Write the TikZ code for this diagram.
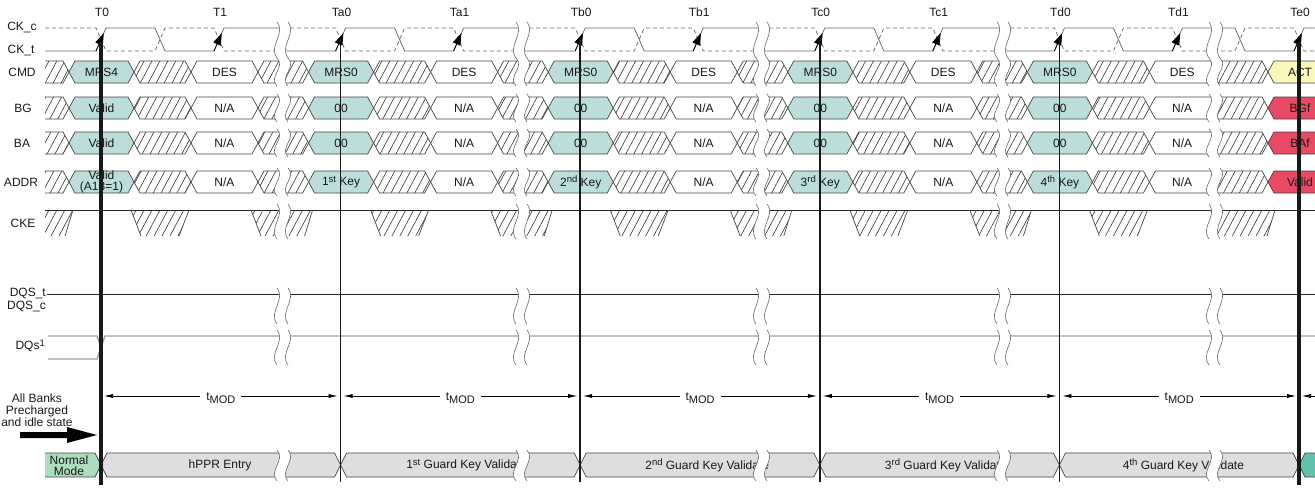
\documentclass[tikz,border=0pt]{standalone}
\usepackage{fontspec}
\setmainfont{Liberation Sans}
\usetikzlibrary{arrows.meta,patterns.meta}
\definecolor{tealbox}{RGB}{188,222,218}
\definecolor{greenbox}{RGB}{172,222,188}
\definecolor{yelbox}{RGB}{250,247,186}
\definecolor{redbox}{RGB}{232,74,100}
\definecolor{graybox}{RGB}{221,222,224}
\definecolor{tealdark}{RGB}{98,192,172}
\definecolor{lineg}{RGB}{70,70,70}
\definecolor{clkg}{RGB}{105,105,105}
\definecolor{dqg}{RGB}{160,160,160}
\tikzset{
  cellline/.style={draw=lineg, line width=0.7pt, line join=miter},
  hatch/.style={pattern={Lines[angle=62,distance=7pt,line width=0.6pt]}, pattern color=black!80},
  celltext/.style={font=\fontsize{12}{10.5}\selectfont, text=black!90, align=center, inner sep=0pt},
  lbl/.style={font=\fontsize{12}{12}\selectfont, text=black!90, inner sep=0pt},
  clkline/.style={draw=clkg, line width=0.75pt},
  clkdash/.style={dash pattern=on 4pt off 3pt},
  clkarr/.style={draw=black, line width=0.8pt, -{Triangle[length=12pt,width=8pt]}},
  brkline/.style={draw=clkg, line width=0.6pt},
  vthick/.style={draw=black!90, line width=4pt},
  vthin/.style={draw=black!90, line width=1.7pt},
  dqline/.style={draw=dqg, line width=1.4pt},
  tmod/.style={draw=black, line width=0.6pt, {Latex[length=9pt,width=4pt]}-{Latex[length=9pt,width=4pt]}},
  tlabel/.style={fill=white, inner xsep=6pt, inner ysep=1pt, font=\fontsize{12}{12}\selectfont, text=black!90, yshift=-2.5pt}
}
\newcommand\sups[1]{\raisebox{3.6pt}{\fontsize{9.5}{9.5}\selectfont #1}}
\newcount\nodecount
\newcommand\nextname{\global\advance\nodecount by 1\relax}
\def\cellh{11}
\newcommand\bcell[5]{%
  \path[cellline,#4] (#1,#3) -- (#1+6,#3-\cellh) -- (#2-6,#3-\cellh) -- (#2,#3) -- (#2-6,#3+\cellh) -- (#1+6,#3+\cellh) -- cycle;
  \nextname
  \node[celltext] (n\the\nodecount) at ({(#1+#2)/2},#3) {#5};}
\newcommand\bcellL[5]{%
  \path[#4] (#1,#3-\cellh) -- (#2-6,#3-\cellh) -- (#2,#3) -- (#2-6,#3+\cellh) -- (#1,#3+\cellh) -- cycle;
  \draw[cellline] (#1,#3-\cellh) -- (#2-6,#3-\cellh) -- (#2,#3) -- (#2-6,#3+\cellh) -- (#1,#3+\cellh);
  \nextname
  \node[celltext] (n\the\nodecount) at ({(#1+#2)/2},#3) {#5};}
\newcommand\bcellR[5]{%
  \path[#4] (#1,#3) -- (#1+6,#3-\cellh) -- (#2,#3-\cellh) -- (#2,#3+\cellh) -- (#1+6,#3+\cellh) -- cycle;
  \draw[cellline] (#2,#3-\cellh) -- (#1+6,#3-\cellh) -- (#1,#3) -- (#1+6,#3+\cellh) -- (#2,#3+\cellh);
  \nextname
  \node[celltext] (n\the\nodecount) at ({(#1+#2)/2},#3) {#5};}
% one bus row of a segment: s, next s, y, coloured text, white text
\newcommand\segrow[5]{%
  \bcell{#1-32}{#1+33}{#3}{fill=tealbox}{#4}
  \bcell{#1+33}{#1+90}{#3}{hatch}{}
  \bcell{#1+90}{#1+157}{#3}{fill=white}{#5}
  \bcell{#1+157}{#2-32}{#3}{hatch}{}}
% last full segment row: y, coloured text, white text, final colour, final text
\newcommand\segrowlast[5]{%
  \bcell{\sgE-32}{\sgE+33}{#1}{fill=tealbox}{#2}
  \bcell{\sgE+33}{\sgE+90}{#1}{hatch}{}
  \bcellR{\sgE+90}{1215}{#1}{fill=white}{#3}
  \bcellL{1214}{1268}{#1}{hatch}{}
  \bcell{1268}{1340}{#1}{fill=#4}{}
  \nextname
  \node[celltext] (n\the\nodecount) at (1300,#1) {#5};}
% clock segment: start, edge s, end
\newcommand\clkseg[3]{%
  \draw[clkline] (#1,51) -- (#2-5,51) -- (#2+5,28) -- (#2+54,28) -- (#2+64,51) -- (#2+113,51) -- (#2+123,28) -- (#3,28);
  \draw[clkline,clkdash] (#1,28) -- (#2-5,28) -- (#2+5,51) -- (#2+54,51) -- (#2+64,28) -- (#2+113,28) -- (#2+123,51) -- (#3,51);}
\newcommand\clkarrow[1]{\draw[clkarr] (#1-5,51) -- (#1+2.8,33);}
% CKE hatches
\newcommand\ckeA[2]{\path[hatch] (#1,210) -- (#2-28,210) -- (#2-36,236) -- (#1,236) -- cycle;
  \draw[cellline] (#2-28,210) -- (#2-36,236);}
\newcommand\ckeB[1]{\path[hatch] (#1+30,210) -- (#1+88,210) -- (#1+78,236) -- (#1+40,236) -- cycle;
  \draw[cellline] (#1+30,210) -- (#1+40,236) (#1+88,210) -- (#1+78,236);}
\newcommand\ckeC[2]{\path[hatch] (#1+150,210) -- (#2,210) -- (#2,236) -- (#1+160,236) -- cycle;
  \draw[cellline] (#1+150,210) -- (#1+160,236);}
% break mark: x, top y, height
\newcommand\brkmark[3]{%
  \pgfmathsetmacro\bya{#2}\pgfmathsetmacro\byb{#2+#3/3}\pgfmathsetmacro\byc{#2+2*#3/3}\pgfmathsetmacro\byd{#2+#3}%
  \pgfmathsetmacro\bxa{#1}\pgfmathsetmacro\bxb{#1+11}%
  \fill[white] (\bxa,\bya) .. controls (\bxa+9,\byb) and (\bxa-9,\byc) .. (\bxa,\byd) -- (\bxb,\byd) .. controls (\bxb-9,\byc) and (\bxb+9,\byb) .. (\bxb,\bya) -- cycle;
  \draw[brkline] (\bxa,\bya) .. controls (\bxa+9,\byb) and (\bxa-9,\byc) .. (\bxa,\byd);
  \draw[brkline] (\bxb,\bya) .. controls (\bxb+9,\byb) and (\bxb-9,\byc) .. (\bxb,\byd);}
\def\sgA{101}
\def\sgB{340.6}
\def\sgC{580.2}
\def\sgD{819.8}
\def\sgE{1059.4}
\def\sgF{1299}
\begin{document}
\begin{tikzpicture}[x=1pt,y=-1pt]
\useasboundingbox (0,0) rectangle (1315,496);
\fill[white] (0,0) rectangle (1315,496);
% ---------- bus rows ----------
\bcellL{45}{\sgA-32}{72}{hatch}{}
\bcellL{45}{\sgA-32}{108}{hatch}{}
\bcellL{45}{\sgA-32}{143}{hatch}{}
\bcellL{45}{\sgA-32}{182}{hatch}{}
\segrow{\sgA}{\sgB}{72}{MRS4}{DES}
\segrow{\sgA}{\sgB}{108}{Valid}{N/A}
\segrow{\sgA}{\sgB}{143}{Valid}{N/A}
\segrow{\sgA}{\sgB}{182}{Valid\\(A13=1)}{N/A}
\segrow{\sgB}{\sgC}{72}{MRS0}{DES}
\segrow{\sgB}{\sgC}{108}{00}{N/A}
\segrow{\sgB}{\sgC}{143}{00}{N/A}
\segrow{\sgB}{\sgC}{182}{1\sups{st} Key}{N/A}
\segrow{\sgC}{\sgD}{72}{MRS0}{DES}
\segrow{\sgC}{\sgD}{108}{00}{N/A}
\segrow{\sgC}{\sgD}{143}{00}{N/A}
\segrow{\sgC}{\sgD}{182}{2\sups{nd} Key}{N/A}
\segrow{\sgD}{\sgE}{72}{MRS0}{DES}
\segrow{\sgD}{\sgE}{108}{00}{N/A}
\segrow{\sgD}{\sgE}{143}{00}{N/A}
\segrow{\sgD}{\sgE}{182}{3\sups{rd} Key}{N/A}
\segrowlast{72}{MRS0}{DES}{yelbox}{ACT}
\segrowlast{108}{00}{N/A}{redbox}{BGf}
\segrowlast{143}{00}{N/A}{redbox}{BAf}
\segrowlast{182}{4\sups{th} Key}{N/A}{redbox}{Valid}
% ---------- CKE ----------
\draw[black!85, line width=0.7pt] (45,210) -- (1320,210);
\ckeA{45}{\sgA}
\ckeB{\sgA}
\ckeC{\sgA}{283}
\ckeA{283}{\sgB}
\ckeB{\sgB}
\ckeC{\sgB}{522}
\ckeA{522}{\sgC}
\ckeB{\sgC}
\ckeC{\sgC}{762}
\ckeA{762}{\sgD}
\ckeB{\sgD}
\ckeC{\sgD}{1003}
\ckeA{1003}{\sgE}
\ckeB{\sgE}
\path[hatch] (1214,210) -- (1275,210) -- (1267,236) -- (1214,236) -- cycle;
\draw[cellline] (1275,210) -- (1267,236);
% ---------- clock ----------
\clkseg{45}{\sgA}{283}
\clkseg{283}{\sgB}{522}
\clkseg{522}{\sgC}{762}
\clkseg{762}{\sgD}{1003}
\clkseg{1003}{\sgE}{1215}
\draw[clkline] (1214,28) -- (1235,28) -- (1245,51) -- (1294,51) -- (1304,28) -- (1320,28);
\draw[clkline,clkdash] (1214,51) -- (1235,51) -- (1245,28) -- (1294,28) -- (1304,51) -- (1320,51);
% ---------- DQS / DQs ----------
\draw[black!85, line width=0.65pt] (47,294) -- (1320,294);
\draw[dqline] (48,336) -- (97,336) -- (101,347.5) -- (105,336) -- (1320,336);
\draw[dqline] (48,359) -- (97,359) -- (101,347.5);
% ---------- state row ----------
\def\cellh{12}
\bcellL{45}{\sgA}{465}{fill=greenbox}{}
\node[celltext, font=\fontsize{12}{10.5}\selectfont] (normal) at (69,465.5) {Normal\\Mode};
\bcell{\sgA}{\sgB}{465}{fill=graybox}{}
\bcell{\sgB}{\sgC}{465}{fill=graybox}{}
\bcell{\sgC}{\sgD}{465}{fill=graybox}{}
\bcell{\sgD}{\sgE}{465}{fill=graybox}{}
\bcell{\sgE}{\sgF}{465}{fill=graybox}{}
\bcell{\sgF}{1345}{465}{fill=tealdark}{}
\node[celltext] (st1) at (\sgA+119,465) {hPPR Entry};
\node[celltext] (st2) at (\sgB+126,465) {1\sups{st} Guard Key Validate};
\node[celltext] (st3) at (\sgC+127,465) {2\sups{nd} Guard Key Validate};
\node[celltext] (st4) at (\sgD+126,465) {3\sups{rd} Guard Key Validate};
\node[celltext] (st5) at (\sgE+124,465) {4\sups{th} Guard Key Validate};
% ---------- breaks ----------
\foreach \b in {277,516,756,997,1209}{
  \foreach \yt/\hgt in {22/36, 58/28, 94/28, 129/28, 168/28, 204/35, 288/36, 330/35, 450/31}{
    \brkmark{\b}{\yt}{\hgt}
  }
}
% ---------- clock arrows and edge lines ----------
\clkarrow{\sgA}\clkarrow{\sgA+118}
\clkarrow{\sgB}\clkarrow{\sgB+118}
\clkarrow{\sgC}\clkarrow{\sgC+118}
\clkarrow{\sgD}\clkarrow{\sgD+118}
\clkarrow{\sgE}\clkarrow{\sgE+118}
\clkarrow{\sgF}
\draw[vthick] (\sgA,42) -- (\sgA,485);
\foreach \x in {\sgB,\sgC,\sgD,\sgE}{\draw[vthin] (\x,38) -- (\x,482);}
\draw[vthick] (\sgF,42) -- (\sgF,485);
% ---------- tMOD ----------
\coordinate (m0) at (\sgA,396);
\coordinate (m1) at (\sgB,396);
\coordinate (m2) at (\sgC,396);
\coordinate (m3) at (\sgD,396);
\coordinate (m4) at (\sgE,396);
\coordinate (m5) at (\sgF,396);
\coordinate (m6) at (1345,396);
\foreach \a/\b in {m0/m1,m1/m2,m2/m3,m3/m4,m4/m5}{
  \draw[tmod] ([xshift=3pt]\a) -- node[tlabel] {t\raisebox{-3pt}{\fontsize{11}{11}\selectfont MOD}} ([xshift=-3pt]\b);
}
\draw[draw=black, line width=0.6pt, {Latex[length=9pt,width=4pt]}-] ([xshift=3pt]m5) -- (m6);
% ---------- labels ----------
\node[lbl] (lckc) at (22,27) {CK\_c};
\node[lbl] (lckt) at (21,50) {CK\_t};
\node[lbl] (lcmd) at (22,72) {CMD};
\node[lbl] (lbg) at (23,108) {BG};
\node[lbl] (lba) at (22,143) {BA};
\node[lbl] (laddr) at (21,182) {ADDR};
\node[lbl] (lcke) at (23,223) {CKE};
\node[lbl, anchor=east] (ldqst) at (46,293) {DQS\_t};
\node[lbl, anchor=east] (ldqsc) at (46,306) {DQS\_c};
\node[lbl, anchor=east] (ldq) at (45,346) {DQs\sups{1}};
\node[lbl] (t0) at (\sgA+1,12) {T0};
\node[lbl] (t1) at (\sgA+119,12) {T1};
\node[lbl] (ta0) at (\sgB+1,12) {Ta0};
\node[lbl] (ta1) at (\sgB+119,12) {Ta1};
\node[lbl] (tb0) at (\sgC+1,12) {Tb0};
\node[lbl] (tb1) at (\sgC+119,12) {Tb1};
\node[lbl] (tc0) at (\sgD+1,12) {Tc0};
\node[lbl] (tc1) at (\sgD+119,12) {Tc1};
\node[lbl] (td0) at (\sgE+1,12) {Td0};
\node[lbl] (td1) at (\sgE+119,12) {Td1};
\node[lbl] (te0) at (\sgF+1,12) {Te0};
\node[lbl, align=center, font=\fontsize{12}{12.2}\selectfont] (allbanks) at (37,410.5) {All Banks\\Precharged\\and idle state};
\fill[black] (20,432) -- (67,432) -- (67,427) -- (97,435) -- (67,443) -- (67,438) -- (20,438) -- cycle;
\end{tikzpicture}
\end{document}
